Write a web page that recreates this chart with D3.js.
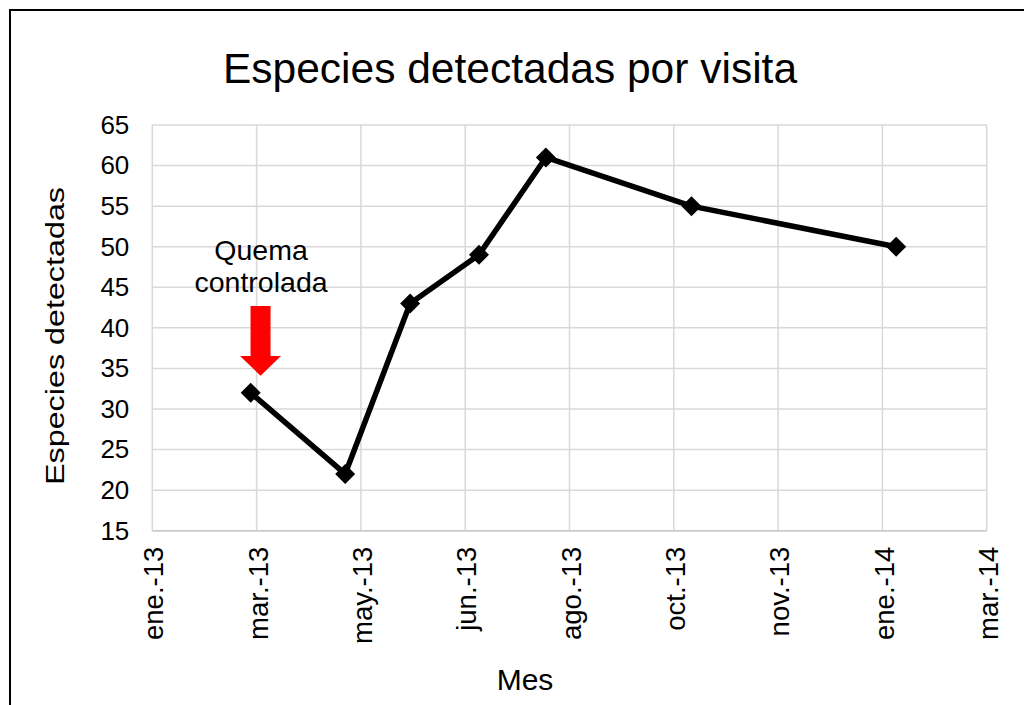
<!DOCTYPE html>
<html>
<head>
<meta charset="utf-8">
<script src="https://cdn.jsdelivr.net/npm/d3@7"></script>
<style>
  html, body { margin: 0; padding: 0; background: #fff; }
  svg { display: block; font-family: "Liberation Sans", Arial, sans-serif; }
</style>
</head>
<body>
<svg id="chart" width="1024" height="705"></svg>
<script>
// Survey visits: date of each visit and number of species detected
const visitDates = ["2013-03-06", "2013-04-23", "2013-05-26", "2013-06-30", "2013-08-03", "2013-10-16", "2014-01-28"];
const speciesCounts = [32, 22, 43, 49, 61, 55, 50];

// Axis ticks
const xTickDates = ["2013-01-15", "2013-03-09", "2013-05-01", "2013-06-23", "2013-08-15", "2013-10-07", "2013-11-29", "2014-01-21", "2014-03-15"];
const xTickLabels = ["ene.-13", "mar.-13", "may.-13", "jun.-13", "ago.-13", "oct.-13", "nov.-13", "ene.-14", "mar.-14"];
const yTicks = [15, 20, 25, 30, 35, 40, 45, 50, 55, 60, 65];

// Annotation: controlled burn
const burnDate = "2013-03-11";
const burnLabel = ["Quema", "controlada"];
const burnArrowTip = 34.1;

const parse = d3.utcParse("%Y-%m-%d");
const svg = d3.select("#chart");

const plot = { left: 152.3, right: 986.7, top: 125, bottom: 530.7 };

const x = d3.scaleUtc()
  .domain([parse(xTickDates[0]), parse(xTickDates[xTickDates.length - 1])])
  .range([plot.left, plot.right]);
const y = d3.scaleLinear()
  .domain([15, 65])
  .range([plot.bottom, plot.top]);

// Outer frame (only top and left edges fall inside the view)
svg.append("rect")
  .attr("x", 10).attr("y", 10)
  .attr("width", 1100).attr("height", 800)
  .attr("fill", "none").attr("stroke", "#000").attr("stroke-width", 2);

// Title
svg.append("text")
  .attr("x", 510).attr("y", 83)
  .attr("text-anchor", "middle")
  .attr("font-size", 42.5)
  .attr("fill", "#000")
  .text("Especies detectadas por visita");

// Gridlines
const grid = svg.append("g").attr("stroke", "#d9d9d9").attr("stroke-width", 1.5);
grid.selectAll("line.h").data(yTicks).join("line")
  .attr("class", "h")
  .attr("x1", plot.left).attr("x2", plot.right)
  .attr("y1", d => y(d)).attr("y2", d => y(d));
grid.selectAll("line.v").data(xTickDates).join("line")
  .attr("class", "v")
  .attr("x1", d => x(parse(d))).attr("x2", d => x(parse(d)))
  .attr("y1", plot.top).attr("y2", plot.bottom);

// Axis line
svg.append("line")
  .attr("x1", plot.left).attr("x2", plot.right)
  .attr("y1", plot.bottom).attr("y2", plot.bottom)
  .attr("stroke", "#c8c8c8").attr("stroke-width", 1.5);

// Y axis labels
const yAxis = d3.axisLeft(y).tickValues(yTicks).tickSize(0).tickPadding(23);
const gy = svg.append("g")
  .attr("transform", `translate(${plot.left},0)`)
  .call(yAxis);
gy.select(".domain").remove();
gy.selectAll("text")
  .attr("font-size", 26)
  .attr("font-family", "Liberation Sans, Arial, sans-serif")
  .attr("fill", "#000");

// X axis labels (rotated)
const xLabelMap = new Map(xTickDates.map((d, i) => [d, xTickLabels[i]]));
const xAxis = d3.axisBottom(x)
  .tickValues(xTickDates.map(parse))
  .tickSize(0)
  .tickFormat(d => xLabelMap.get(d3.utcFormat("%Y-%m-%d")(d)));
const gx = svg.append("g")
  .attr("transform", `translate(0,${plot.bottom})`)
  .call(xAxis);
gx.select(".domain").remove();
gx.selectAll("text")
  .attr("font-size", 27.5)
  .attr("font-family", "Liberation Sans, Arial, sans-serif")
  .attr("fill", "#000")
  .attr("text-anchor", "end")
  .attr("dy", "0.35em")
  .attr("y", 0)
  .attr("transform", "translate(1,16) rotate(-90)");

// Axis titles
svg.append("text")
  .attr("transform", "translate(64,336) rotate(-90)")
  .attr("text-anchor", "middle")
  .attr("font-size", 25.5)
  .attr("textLength", 298)
  .attr("lengthAdjust", "spacingAndGlyphs")
  .attr("fill", "#000")
  .text("Especies detectadas");

svg.append("text")
  .attr("x", 525).attr("y", 690)
  .attr("text-anchor", "middle")
  .attr("font-size", 30)
  .attr("fill", "#000")
  .text("Mes");

// Series line and markers
const pts = visitDates.map((d, i) => ({ date: parse(d), value: speciesCounts[i] }));
const line = d3.line().x(d => x(d.date)).y(d => y(d.value));
svg.append("path")
  .datum(pts)
  .attr("d", line)
  .attr("fill", "none")
  .attr("stroke", "#000")
  .attr("stroke-width", 5.5)
  .attr("stroke-linejoin", "round");

svg.selectAll("path.marker").data(pts).join("path")
  .attr("class", "marker")
  .attr("d", d3.symbol().type(d3.symbolSquare).size(200)())
  .attr("transform", d => `translate(${x(d.date)},${y(d.value)}) rotate(45)`)
  .attr("fill", "#000");

// Controlled burn annotation
const ax = x(parse(burnDate));
const tipY = y(burnArrowTip);
const ann = svg.append("g");
ann.selectAll("text").data(burnLabel).join("text")
  .attr("x", ax + 0.5)
  .attr("y", (d, i) => tipY - 115.7 + i * 31.7)
  .attr("text-anchor", "middle")
  .attr("font-size", 28.5)
  .attr("fill", "#000")
  .text(d => d);

ann.append("path")
  .attr("d", d3.line()([
    [ax - 10, tipY - 69.7],
    [ax + 10, tipY - 69.7],
    [ax + 10, tipY - 19.7],
    [ax + 20.5, tipY - 19.7],
    [ax, tipY],
    [ax - 20.5, tipY - 19.7],
    [ax - 10, tipY - 19.7]
  ]) + "Z")
  .attr("fill", "#ff0000");
</script>
</body>
</html>
